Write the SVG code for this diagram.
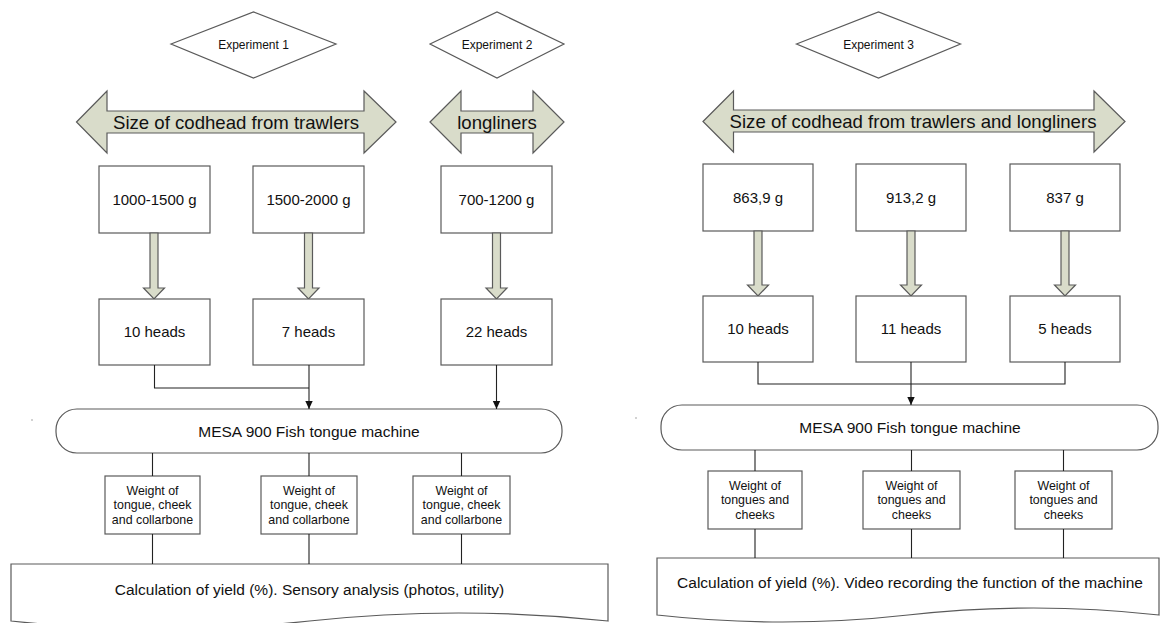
<svg xmlns="http://www.w3.org/2000/svg" width="1160" height="623" viewBox="0 0 1160 623">
<defs>
<style>
.sh{fill:#fff;stroke:#5a5a5a;stroke-width:1.2}
.dbl{fill:#d9dcca;stroke:#5a5a5a;stroke-width:1.2}
.con{fill:none;stroke:#222;stroke-width:1.1}
text{font-family:"Liberation Sans",Arial,sans-serif;fill:#111;text-anchor:middle}
.exp{font-size:12px}
.big{font-size:18.6px}
.box{font-size:15px}
.mesa{font-size:15.5px}
.w{font-size:12.4px}
</style>
<marker id="ah" markerWidth="8" markerHeight="10" refX="8" refY="5" orient="auto" markerUnits="userSpaceOnUse">
<path d="M0,1.3 L8,5 L0,8.7 Z" fill="#111"/>
</marker>
</defs>
<rect width="1160" height="623" fill="#fff"/>

<g id="exp1"><polygon class="sh" points="171,44 253.5,12 336,44 253.5,78"/><text class="exp" x="253.5" y="48.5">Experiment 1</text></g>
<g id="exp2"><polygon class="sh" points="430,44 497,12 564,44 497,78"/><text class="exp" x="497" y="48.5">Experiment 2</text></g>
<g id="exp3"><polygon class="sh" points="796.5,44 878.5,12 960.5,44 878.5,78"/><text class="exp" x="878.5" y="48.5">Experiment 3</text></g>

<g id="size1"><polygon class="dbl" points="76.5,122 107,91 107,111 364,111 364,91 396,122 364,153 364,133 107,133 107,153"/><text class="big" x="236" y="128.5">Size of codhead from trawlers</text></g>
<g id="size2"><polygon class="dbl" points="430,122 461,91 461,111 533,111 533,91 564,122 533,153 533,133 461,133 461,153"/><text class="big" x="497" y="128.5">longliners</text></g>
<g id="size3"><polygon class="dbl" points="703,121.5 733.5,91 733.5,110 1094,110 1094,91 1125,121.5 1094,152 1094,132 733.5,132 733.5,152"/><text class="big" x="913" y="128">Size of codhead from trawlers and longliners</text></g>

<g id="w1"><rect class="sh" x="99" y="166" width="111" height="67"/><text class="box" x="154.5" y="205">1000-1500 g</text></g>
<g id="w2"><rect class="sh" x="253" y="166" width="111" height="67"/><text class="box" x="308.5" y="205">1500-2000 g</text></g>
<g id="w3"><rect class="sh" x="441" y="166" width="111" height="67"/><text class="box" x="496.5" y="205">700-1200 g</text></g>
<g id="w4"><rect class="sh" x="703" y="164" width="110" height="67"/><text class="box" x="758" y="203">863,9 g</text></g>
<g id="w5"><rect class="sh" x="856" y="164" width="110" height="67"/><text class="box" x="911" y="203">913,2 g</text></g>
<g id="w6"><rect class="sh" x="1010" y="164" width="110" height="67"/><text class="box" x="1065" y="203">837 g</text></g>

<g id="thick">
<polygon class="dbl" points="150,233 158,233 158,288 164.5,288 154,299 143.5,288 150,288"/>
<polygon class="dbl" points="304.5,233 312.5,233 312.5,288 319,288 308.5,299 298,288 304.5,288"/>
<polygon class="dbl" points="492.5,233 500.5,233 500.5,288 507,288 496.5,299 486,288 492.5,288"/>
<polygon class="dbl" points="754,231 762,231 762,285 768.5,285 758,296 747.5,285 754,285"/>
<polygon class="dbl" points="907,231 915,231 915,285 921.5,285 911,296 900.5,285 907,285"/>
<polygon class="dbl" points="1061,231 1069,231 1069,285 1075.5,285 1065,296 1054.5,285 1061,285"/>
</g>

<g id="h1"><rect class="sh" x="99" y="299" width="111" height="66"/><text class="box" x="154.5" y="337">10 heads</text></g>
<g id="h2"><rect class="sh" x="253" y="299" width="111" height="66"/><text class="box" x="308.5" y="337">7 heads</text></g>
<g id="h3"><rect class="sh" x="441" y="299" width="111" height="66"/><text class="box" x="496.5" y="337">22 heads</text></g>
<g id="h4"><rect class="sh" x="703" y="296" width="110" height="66"/><text class="box" x="758" y="334">10 heads</text></g>
<g id="h5"><rect class="sh" x="856" y="296" width="110" height="66"/><text class="box" x="911" y="334">11 heads</text></g>
<g id="h6"><rect class="sh" x="1010" y="296" width="110" height="66"/><text class="box" x="1065" y="334">5 heads</text></g>

<g id="mesa1"><rect class="sh" x="56" y="409" width="506" height="44" rx="21" ry="21"/><text class="mesa" x="309" y="436.5">MESA 900 Fish tongue machine</text></g>
<g id="mesa2"><rect class="sh" x="661" y="405" width="497" height="45" rx="21" ry="21"/><text class="mesa" x="910" y="433">MESA 900 Fish tongue machine</text></g>

<g id="r1"><rect class="sh" x="105" y="476" width="95" height="58"/><text class="w" x="152.5"><tspan x="152.5" y="494.5">Weight of</tspan><tspan x="152.5" y="509">tongue, cheek</tspan><tspan x="152.5" y="523.5">and collarbone</tspan></text></g>
<g id="r2"><rect class="sh" x="261" y="476" width="96" height="58"/><text class="w" x="309"><tspan x="309" y="494.5">Weight of</tspan><tspan x="309" y="509">tongue, cheek</tspan><tspan x="309" y="523.5">and collarbone</tspan></text></g>
<g id="r3"><rect class="sh" x="413" y="476" width="97" height="58"/><text class="w" x="461.5"><tspan x="461.5" y="494.5">Weight of</tspan><tspan x="461.5" y="509">tongue, cheek</tspan><tspan x="461.5" y="523.5">and collarbone</tspan></text></g>
<g id="r4"><rect class="sh" x="708" y="471" width="94" height="58"/><text class="w" x="755"><tspan x="755" y="489.5">Weight of</tspan><tspan x="755" y="504">tongues and</tspan><tspan x="755" y="518.5">cheeks</tspan></text></g>
<g id="r5"><rect class="sh" x="863" y="471" width="97" height="58"/><text class="w" x="911.5"><tspan x="911.5" y="489.5">Weight of</tspan><tspan x="911.5" y="504">tongues and</tspan><tspan x="911.5" y="518.5">cheeks</tspan></text></g>
<g id="r6"><rect class="sh" x="1015" y="471" width="97" height="58"/><text class="w" x="1063.5"><tspan x="1063.5" y="489.5">Weight of</tspan><tspan x="1063.5" y="504">tongues and</tspan><tspan x="1063.5" y="518.5">cheeks</tspan></text></g>

<g id="calc1"><path class="sh" d="M11,564 H608 V621 Q458.25,605 309.5,621 T11,621 Z"/><text class="mesa" x="309.5" y="595">Calculation of yield (%). Sensory analysis (photos, utility)</text></g>
<g id="calc2"><path class="sh" d="M657,558 H1159 V615 Q1033.5,601 908,615 T657,615 Z"/><text class="mesa" x="910" y="588">Calculation of yield (%). Video recording the function of the machine</text></g>

<g id="connectors">
<path class="con" d="M154.5,365 V388 H309"/>
<path class="con" d="M309,365 V409" marker-end="url(#ah)"/>
<path class="con" d="M496.5,365 V409" marker-end="url(#ah)"/>
<path class="con" d="M758,362 V384 H1065 V362"/>
<path class="con" d="M911,362 V405" marker-end="url(#ah)"/>
<path class="con" d="M152.5,453 V476 M152.5,534 V564"/>
<path class="con" d="M309,453 V476 M309,534 V564"/>
<path class="con" d="M461.5,453 V476 M461.5,534 V564"/>
<path class="con" d="M755,450 V471 M755,529 V558"/>
<path class="con" d="M911.5,450 V471 M911.5,529 V558"/>
<path class="con" d="M1063.5,450 V471 M1063.5,529 V558"/>
</g>
<circle cx="32" cy="420" r="0.8" fill="#999"/>
<circle cx="636" cy="418" r="0.8" fill="#999"/>
</svg>
